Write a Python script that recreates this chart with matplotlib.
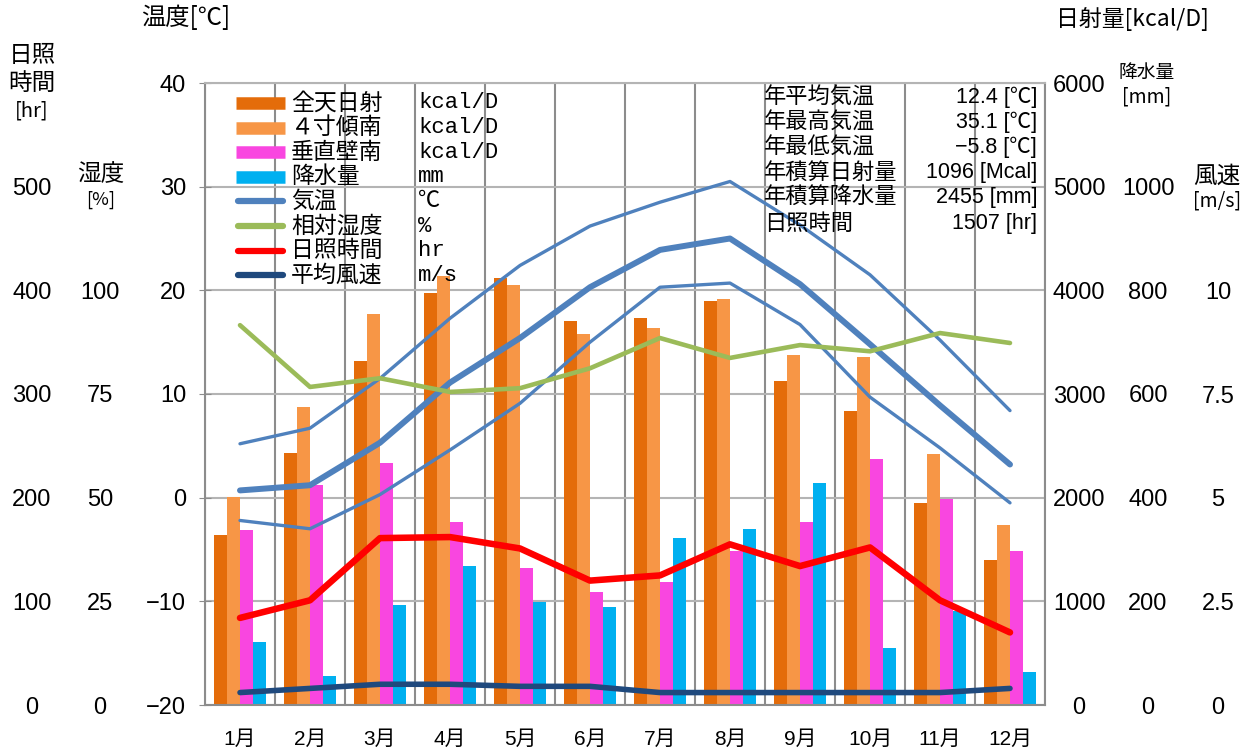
import numpy as np
import matplotlib
matplotlib.use('Agg')
import matplotlib.pyplot as plt
from matplotlib.lines import Line2D

plt.rcParams['font.family'] = ['Liberation Sans', 'Noto Sans CJK JP', 'DejaVu Sans']

months = ['1月', '2月', '3月', '4月', '5月', '6月', '7月', '8月', '9月', '10月', '11月', '12月']
# 日射量 kcal/D
solar_total = [1640, 2430, 3320, 3970, 4120, 3700, 3730, 3900, 3130, 2840, 1950, 1400]
solar_tilt = [2005, 2870, 3770, 4140, 4050, 3580, 3640, 3915, 3375, 3355, 2420, 1740]
solar_wall = [1690, 2120, 2335, 1765, 1320, 1090, 1185, 1485, 1765, 2370, 1985, 1485]
# 降水量 mm
precip = [121, 56, 193, 268, 199, 189, 322, 339, 428, 110, 181, 64]
# 気温 ℃
t_max = [5.2, 6.7, 11.5, 17.3, 22.4, 26.2, 28.5, 30.5, 26.3, 21.5, 15.2, 8.4]
t_mean = [0.7, 1.2, 5.3, 11.1, 15.4, 20.3, 23.9, 25.0, 20.6, 14.8, 8.9, 3.2]
t_min = [-2.2, -3.0, 0.3, 4.6, 9.1, 15.0, 20.3, 20.7, 16.7, 9.7, 4.8, -0.5]
humidity = [91.6, 76.7, 78.8, 75.5, 76.4, 81.2, 88.5, 83.7, 86.8, 85.3, 89.7, 87.3]
sunshine = [84, 101, 161, 162, 151, 120, 125, 155, 134, 152, 101, 70]
wind = [0.3, 0.4, 0.5, 0.5, 0.45, 0.45, 0.3, 0.3, 0.3, 0.3, 0.3, 0.4]

legend_names = ['全天日射', '４寸傾南', '垂直壁南', '降水量', '気温', '相対湿度', '日照時間', '平均風速']
legend_units = ['kcal/D', 'kcal/D', 'kcal/D', 'mm', '℃', '%', 'hr', 'm/s']
stat_names = ['年平均気温', '年最高気温', '年最低気温', '年積算日射量', '年積算降水量', '日照時間']
stat_values = ['12.4 [℃]', '35.1 [℃]', '−5.8 [℃]', '1096 [Mcal]', '2455 [mm]', '1507 [hr]']

c_total = '#E46C0A'
c_tilt = '#F79646'
c_wall = '#F946E0'
c_rain = '#00B0F0'
c_temp = '#4F81BD'
c_hum = '#9BBB59'
c_sun = '#FF0000'
c_wind = '#1F497D'
legend_colors = [c_total, c_tilt, c_wall, c_rain, c_temp, c_hum, c_sun, c_wind]

W, H = 1257, 756
fig = plt.figure(figsize=(W / 100, H / 100), dpi=100)
L, R, T, B = 205, 1045, 83, 705
ax = fig.add_axes([L / W, 1 - B / H, (R - L) / W, (B - T) / H])

def fx(x):
    return x / W

def fy(y):
    return 1 - y / H

x = np.arange(1, 13)
ax.set_xlim(0.5, 12.5)
ax.set_ylim(-20, 40)
ax.set_yticks(np.arange(-20, 41, 10))
ax.set_xticks(x)
ax.set_xticklabels(months, fontsize=15)
ax.tick_params(axis='x', length=0, pad=18)
ax.tick_params(axis='y', labelsize=17, direction='inout', length=9, color='#8c8c8c', pad=9)
ax.grid(axis='y', color='#b4b4b4', lw=1.5)
for v in np.arange(0.5, 13, 1):
    ax.axvline(v, color='#8c8c8c', lw=1.5, zorder=0)
for s in ax.spines.values():
    s.set_visible(False)

def twin(lo, hi, side, ticks, labels, pad):
    a = ax.twinx()
    a.set_ylim(lo, hi)
    a.patch.set_visible(False)
    for s in a.spines.values():
        s.set_visible(False)
    a.yaxis.set_ticks_position(side)
    a.yaxis.set_label_position(side)
    a.set_yticks(ticks)
    a.set_yticklabels(labels)
    a.tick_params(axis='y', length=0, labelsize=17, pad=pad)
    for t in a.get_yticklabels():
        t.set_horizontalalignment('center')
    return a

ax_sol = twin(0, 6000, 'right', np.arange(0, 6001, 1000), [str(v) for v in range(0, 6001, 1000)], 24.5)
ax_pre = twin(0, 1200, 'right', np.arange(0, 1001, 200), [str(v) for v in range(0, 1001, 200)], 74.2)
ax_t = twin(-20, 40, 'right', [], [], 0)
ax_hum = twin(0, 150, 'left', np.arange(0, 101, 25), ['0', '25', '50', '75', '100'], 75.6)
ax_sun = twin(0, 600, 'left', np.arange(0, 501, 100), [str(v) for v in range(0, 501, 100)], 124.6)
ax_wind = twin(0, 15, 'right', [0, 2.5, 5, 7.5, 10], ['0', '2.5', '5', '7.5', '10'], 124.6)
ax_wind.set_xlim(0.5, 12.5)
for s in ax_wind.spines.values():
    s.set_visible(True)
    s.set_color('#8c8c8c')
    s.set_linewidth(1.5)
ax_wind.spines['top'].set_color('#b4b4b4')

w = 13 / 70
ax_sol.bar(x - 1.5 * w, solar_total, w, color=c_total)
ax_sol.bar(x - 0.5 * w, solar_tilt, w, color=c_tilt)
ax_sol.bar(x + 0.5 * w, solar_wall, w, color=c_wall)
ax_pre.bar(x + 1.5 * w, precip, w, color=c_rain)

lk = dict(solid_capstyle='round', solid_joinstyle='round')
ax_t.plot(x, t_max, color=c_temp, lw=2.4, **lk)
ax_t.plot(x, t_min, color=c_temp, lw=2.4, **lk)
ax_t.plot(x, t_mean, color=c_temp, lw=4.3, **lk)
ax_hum.plot(x, humidity, color=c_hum, lw=3.3, **lk)
ax_sun.plot(x, sunshine, color=c_sun, lw=4.7, **lk)
ax_wind.plot(x, wind, color=c_wind, lw=4.0, **lk)

cjk = ['Noto Sans CJK JP', 'DejaVu Sans']

# legend
for i, (name, unit, col) in enumerate(zip(legend_names, legend_units, legend_colors)):
    yy = 103 + i * 24.6
    if i < 4:
        fig.add_artist(Line2D([fx(236), fx(285)], [fy(yy), fy(yy)], color=col, lw=9,
                              solid_capstyle='butt'))
    else:
        fig.add_artist(Line2D([fx(238), fx(283)], [fy(yy), fy(yy)], color=col, lw=4.5,
                              solid_capstyle='round'))
    fig.text(fx(291), fy(yy), name, fontsize=16.5, va='center', ha='left', family=cjk)
    fig.text(fx(418), fy(yy), unit, fontsize=16, va='center', ha='left',
             family=['Liberation Mono', 'Noto Sans CJK JP', 'DejaVu Sans'])

# annual stats
for i, (name, val) in enumerate(zip(stat_names, stat_values)):
    yy = 97 + i * 25.2
    fig.text(fx(764), fy(yy), name, fontsize=16, va='center', ha='left', family=cjk)
    fig.text(fx(1037), fy(yy), val, fontsize=15.5, va='center', ha='right')

# axis titles
fig.text(fx(186), fy(18), '温度[℃]', fontsize=17.5, ha='center', va='center', family=cjk)
fig.text(fx(32), fy(56), '日照', fontsize=17, ha='center', va='center', family=cjk)
fig.text(fx(32), fy(83), '時間', fontsize=17, ha='center', va='center', family=cjk)
fig.text(fx(32), fy(111), '[hr]', fontsize=14.5, ha='center', va='center', family=cjk)
fig.text(fx(101), fy(175), '湿度', fontsize=17, ha='center', va='center', family=cjk)
fig.text(fx(101), fy(200), '[%]', fontsize=13, ha='center', va='center', family=cjk)
fig.text(fx(1132), fy(19), '日射量[kcal/D]', fontsize=16.5, ha='center', va='center', family=cjk)
fig.text(fx(1147), fy(72), '降水量', fontsize=13.5, ha='center', va='center', family=cjk)
fig.text(fx(1147), fy(97), '[mm]', fontsize=14, ha='center', va='center', family=cjk)
fig.text(fx(1217), fy(176), '風速', fontsize=17, ha='center', va='center', family=cjk)
fig.text(fx(1217), fy(201), '[m/s]', fontsize=14, ha='center', va='center', family=cjk)

fig.savefig('out.png', dpi=100)
